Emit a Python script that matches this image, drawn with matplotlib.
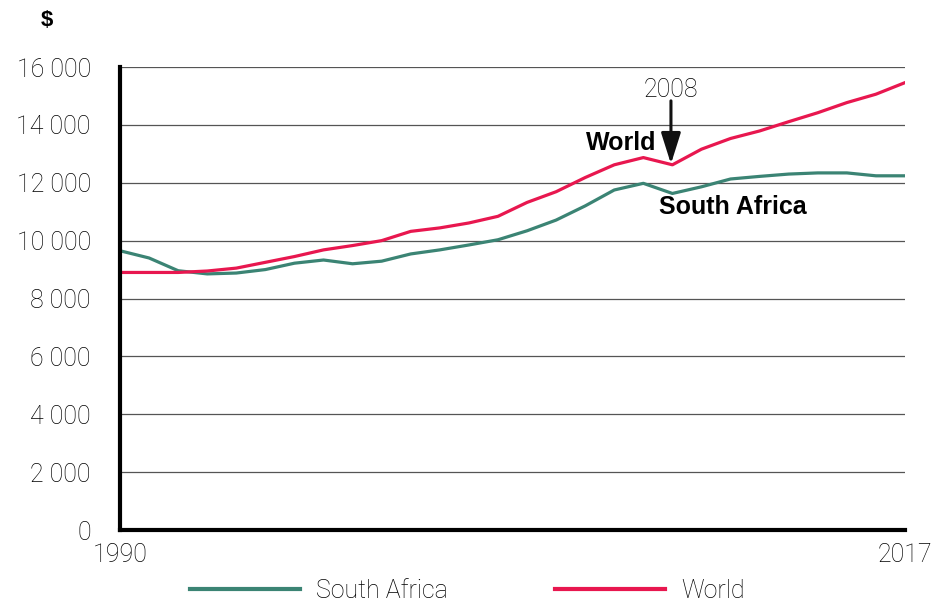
import matplotlib.pyplot as plt
from matplotlib import font_manager

years = list(range(1990, 2018))
south_africa = [9650, 9400, 8960, 8850, 8880, 9000, 9220, 9330, 9200, 9290,
                9540, 9680, 9850, 10030, 10340, 10710, 11200, 11750, 11980, 11630,
                11860, 12130, 12220, 12300, 12340, 12340, 12240, 12240]
world = [8900, 8900, 8900, 8950, 9050, 9250, 9450, 9680, 9830, 10000,
         10320, 10440, 10610, 10840, 11320, 11690, 12180, 12620, 12870, 12620,
         13160, 13530, 13790, 14110, 14420, 14770, 15060, 15460]
yticks = list(range(0, 16001, 2000))
ytick_labels = ["0" if v == 0 else f"{v // 1000} 000" for v in yticks]

green = "#3b8474"
red = "#e8174f"

names = {f.name for f in font_manager.fontManager.ttflist}
light = "Roboto" if "Roboto" in names else "Liberation Sans"
bold = "Liberation Sans"
fs = 18

fig = plt.figure(figsize=(9.34, 6.07), dpi=100)
ax = fig.add_axes([120 / 934, 77 / 607, 785 / 934, 463 / 607])

ax.plot(years, south_africa, color=green, lw=2.3, label="South Africa")
ax.plot(years, world, color=red, lw=2.3, label="World")

ax.set_xlim(1990, 2017)
ax.set_ylim(0, 16000)
ax.set_yticks(yticks)
ax.set_yticklabels(ytick_labels, family=light, fontweight="light", fontsize=fs, color="black")
ax.set_xticks([1990, 2017])
ax.set_xticklabels(["1990", "2017"], family=light, fontweight="light", fontsize=fs, color="black")
ax.tick_params(axis="y", length=0, pad=21)
ax.tick_params(axis="x", length=0, pad=9)
ax.grid(axis="y", color="#555555", lw=0.9)
ax.set_axisbelow(True)
for s in ["top", "right"]:
    ax.spines[s].set_visible(False)
for s in ["left", "bottom"]:
    ax.spines[s].set_linewidth(3)
    ax.spines[s].set_color("black")

fig.text(47 / 934, 1 - 21 / 607, "$", family=bold, fontweight="bold",
         fontsize=16, ha="center", va="center")

# 2008 crisis marker
ax.annotate("", xy=(2008.95, 12650), xytext=(2008.95, 14830),
            arrowprops=dict(arrowstyle="-|>,head_length=1.9,head_width=0.6",
                            color="#111111", lw=2.2, shrinkA=0, shrinkB=0))
ax.text(2008.95, 15220, "2008", family=light, fontweight="light", fontsize=fs,
        ha="center", va="center")
ax.text(2007.23, 13370, "World", family=bold, fontweight="bold", fontsize=fs,
        ha="center", va="center")
ax.text(2011.07, 11160, "South Africa", family=bold, fontweight="bold", fontsize=fs,
        ha="center", va="center")

leg = fig.legend(loc="lower center", bbox_to_anchor=(0.5, -0.03), ncol=2,
                 frameon=False, handlelength=4.4, handletextpad=0.64,
                 columnspacing=4.3, prop={"family": light, "weight": "light", "size": fs})
for line in leg.get_lines():
    line.set_linewidth(3)

fig.savefig("out.png", dpi=100)
